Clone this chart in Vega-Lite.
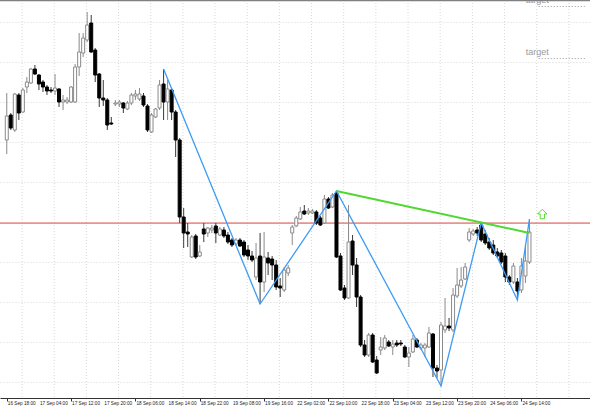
{
  "$schema": "https://vega.github.io/schema/vega-lite/v6.json",
  "width": 590,
  "height": 398,
  "autosize": "none",
  "padding": {"left": 0, "top": 0, "right": 0, "bottom": 12},
  "background": "white",
  "config": {"view": {"stroke": null}},
  "datasets": {
    "candles": [
      {"i":0,"o":260,"h":307,"l":246,"c":284},
      {"i":1,"o":285,"h":287,"l":270,"c":272},
      {"i":2,"o":270,"h":307,"l":268,"c":306},
      {"i":3,"o":305,"h":307,"l":280,"c":287},
      {"i":4,"o":288,"h":312,"l":287,"c":310},
      {"i":5,"o":313,"h":323,"l":307,"c":318},
      {"i":6,"o":317,"h":332,"l":316,"c":331},
      {"i":7,"o":331,"h":335,"l":325,"c":326},
      {"i":8,"o":325,"h":326,"l":310,"c":316},
      {"i":9,"o":318,"h":320,"l":308,"c":313},
      {"i":10,"o":313,"h":315,"l":305,"c":309},
      {"i":11,"o":310,"h":313,"l":307,"c":309},
      {"i":12,"o":309,"h":326,"l":305,"c":312},
      {"i":13,"o":311,"h":312,"l":293,"c":298},
      {"i":14,"o":298,"h":305,"l":290,"c":300},
      {"i":15,"o":298,"h":303,"l":296,"c":300},
      {"i":16,"o":298,"h":314,"l":297,"c":313},
      {"i":17,"o":298,"h":336,"l":297,"c":333},
      {"i":18,"o":333,"h":367,"l":324,"c":348},
      {"i":19,"o":347,"h":367,"l":343,"c":362},
      {"i":20,"o":360,"h":388,"l":358,"c":375},
      {"i":21,"o":377,"h":385,"l":347,"c":348},
      {"i":22,"o":350,"h":352,"l":318,"c":325},
      {"i":23,"o":326,"h":327,"l":293,"c":302},
      {"i":24,"o":302,"h":320,"l":294,"c":300},
      {"i":25,"o":300,"h":302,"l":270,"c":275},
      {"i":26,"o":277,"h":283,"l":275,"c":276},
      {"i":27,"o":296,"h":300,"l":294,"c":297},
      {"i":28,"o":296,"h":300,"l":293,"c":298},
      {"i":29,"o":297,"h":298,"l":287,"c":292},
      {"i":30,"o":291,"h":299,"l":290,"c":297},
      {"i":31,"o":297,"h":307,"l":295,"c":305},
      {"i":32,"o":304,"h":310,"l":300,"c":306},
      {"i":33,"o":301,"h":312,"l":299,"c":306},
      {"i":34,"o":304,"h":307,"l":293,"c":295},
      {"i":35,"o":294,"h":296,"l":268,"c":270},
      {"i":36,"o":268,"h":287,"l":267,"c":285},
      {"i":37,"o":283,"h":292,"l":282,"c":291},
      {"i":38,"o":292,"h":320,"l":290,"c":315},
      {"i":39,"o":316,"h":331,"l":280,"c":298},
      {"i":40,"o":298,"h":320,"l":280,"c":311},
      {"i":41,"o":310,"h":312,"l":280,"c":288},
      {"i":42,"o":288,"h":290,"l":243,"c":260},
      {"i":43,"o":260,"h":262,"l":177,"c":183},
      {"i":44,"o":183,"h":192,"l":152,"c":167},
      {"i":45,"o":168,"h":177,"l":153,"c":166},
      {"i":46,"o":143,"h":165,"l":142,"c":163},
      {"i":47,"o":164,"h":166,"l":141,"c":143},
      {"i":48,"o":144,"h":155,"l":143,"c":148},
      {"i":49,"o":171,"h":177,"l":158,"c":166},
      {"i":50,"o":167,"h":173,"l":163,"c":172},
      {"i":51,"o":170,"h":175,"l":167,"c":172},
      {"i":52,"o":174,"h":177,"l":157,"c":167},
      {"i":53,"o":165,"h":173,"l":164,"c":171},
      {"i":54,"o":170,"h":173,"l":162,"c":164},
      {"i":55,"o":165,"h":168,"l":156,"c":158},
      {"i":56,"o":160,"h":162,"l":153,"c":155},
      {"i":57,"o":156,"h":162,"l":154,"c":160},
      {"i":58,"o":160,"h":162,"l":153,"c":154},
      {"i":59,"o":158,"h":160,"l":143,"c":145},
      {"i":60,"o":150,"h":155,"l":140,"c":144},
      {"i":61,"o":144,"h":149,"l":138,"c":140},
      {"i":62,"o":123,"h":157,"l":120,"c":142},
      {"i":63,"o":144,"h":167,"l":96,"c":118},
      {"i":64,"o":118,"h":168,"l":108,"c":143},
      {"i":65,"o":142,"h":148,"l":125,"c":137},
      {"i":66,"o":141,"h":144,"l":120,"c":135},
      {"i":67,"o":135,"h":140,"l":110,"c":113},
      {"i":68,"o":114,"h":122,"l":103,"c":112},
      {"i":69,"o":110,"h":133,"l":108,"c":130},
      {"i":70,"o":127,"h":135,"l":124,"c":132},
      {"i":71,"o":167,"h":175,"l":155,"c":173},
      {"i":72,"o":174,"h":184,"l":173,"c":182},
      {"i":73,"o":181,"h":193,"l":180,"c":188},
      {"i":74,"o":189,"h":195,"l":185,"c":186},
      {"i":75,"o":187,"h":192,"l":185,"c":189},
      {"i":76,"o":187,"h":191,"l":186,"c":189},
      {"i":77,"o":188,"h":190,"l":175,"c":177},
      {"i":78,"o":182,"h":184,"l":174,"c":175},
      {"i":79,"o":177,"h":205,"l":176,"c":201},
      {"i":80,"o":201,"h":203,"l":191,"c":192},
      {"i":81,"o":193,"h":207,"l":192,"c":205},
      {"i":82,"o":207,"h":209,"l":142,"c":143},
      {"i":83,"o":144,"h":147,"l":109,"c":110},
      {"i":84,"o":112,"h":115,"l":100,"c":102},
      {"i":85,"o":102,"h":195,"l":101,"c":158},
      {"i":86,"o":159,"h":165,"l":125,"c":135},
      {"i":87,"o":135,"h":142,"l":93,"c":103},
      {"i":88,"o":103,"h":105,"l":53,"c":55},
      {"i":89,"o":55,"h":60,"l":43,"c":45},
      {"i":90,"o":45,"h":67,"l":43,"c":65},
      {"i":91,"o":65,"h":67,"l":37,"c":38},
      {"i":92,"o":40,"h":44,"l":26,"c":27},
      {"i":93,"o":50,"h":63,"l":45,"c":53},
      {"i":94,"o":52,"h":65,"l":50,"c":62},
      {"i":95,"o":58,"h":60,"l":53,"c":54},
      {"i":96,"o":53,"h":60,"l":45,"c":56},
      {"i":97,"o":57,"h":60,"l":53,"c":55},
      {"i":98,"o":57,"h":60,"l":54,"c":56},
      {"i":99,"o":53,"h":55,"l":42,"c":43},
      {"i":100,"o":43,"h":53,"l":33,"c":47},
      {"i":101,"o":48,"h":65,"l":47,"c":61},
      {"i":102,"o":60,"h":62,"l":52,"c":53},
      {"i":103,"o":52,"h":57,"l":50,"c":55},
      {"i":104,"o":52,"h":57,"l":43,"c":55},
      {"i":105,"o":53,"h":73,"l":52,"c":67},
      {"i":106,"o":66,"h":67,"l":23,"c":32},
      {"i":107,"o":32,"h":35,"l":22,"c":29},
      {"i":108,"o":30,"h":78,"l":14,"c":75},
      {"i":109,"o":70,"h":102,"l":67,"c":74},
      {"i":110,"o":74,"h":82,"l":69,"c":72},
      {"i":111,"o":70,"h":112,"l":68,"c":105},
      {"i":112,"o":104,"h":132,"l":102,"c":115},
      {"i":113,"o":114,"h":133,"l":112,"c":120},
      {"i":114,"o":121,"h":137,"l":120,"c":133},
      {"i":115,"o":160,"h":172,"l":158,"c":168},
      {"i":116,"o":166,"h":171,"l":164,"c":169},
      {"i":117,"o":170,"h":173,"l":164,"c":167},
      {"i":118,"o":175,"h":177,"l":158,"c":160},
      {"i":119,"o":166,"h":170,"l":155,"c":157},
      {"i":120,"o":158,"h":162,"l":150,"c":152},
      {"i":121,"o":155,"h":160,"l":145,"c":147},
      {"i":122,"o":148,"h":152,"l":142,"c":144},
      {"i":123,"o":147,"h":150,"l":136,"c":138},
      {"i":124,"o":144,"h":147,"l":118,"c":123},
      {"i":125,"o":123,"h":125,"l":115,"c":118},
      {"i":126,"o":118,"h":137,"l":116,"c":134},
      {"i":127,"o":118,"h":122,"l":100,"c":109},
      {"i":128,"o":110,"h":142,"l":107,"c":134},
      {"i":129,"o":124,"h":155,"l":117,"c":139},
      {"i":130,"o":138,"h":181,"l":136,"c":168}
    ],
    "zigzag": [
      {"i":39,"p":331},{"i":63,"p":96},{"i":82,"p":209},{"i":108,"p":14},
      {"i":118,"p":177},{"i":127,"p":100},{"i":130,"p":181}
    ],
    "trend": [{"i":82,"p":209},{"i":130,"p":167}],
    "level": [{"p":176.8}],
    "frame": [{"p":399.5}],
    "targets": [
      {"label":"target","p":393.5,"ti":129.1,"i1":132.3,"i2":143.8},
      {"label":"target","p":341.5,"ti":129.1,"i1":132.3,"i2":143.8}
    ],
    "signal": [{"i":133.2,"p":186}],
    "times": [
      {"i":0,"t":"16 Sep 18:00"},{"i":8,"t":"17 Sep 04:00"},{"i":16,"t":"17 Sep 12:00"},
      {"i":24,"t":"17 Sep 20:00"},{"i":32,"t":"18 Sep 06:00"},{"i":40,"t":"18 Sep 14:00"},
      {"i":48,"t":"18 Sep 22:00"},{"i":56,"t":"19 Sep 08:00"},{"i":64,"t":"19 Sep 16:00"},
      {"i":72,"t":"22 Sep 02:00"},{"i":80,"t":"22 Sep 10:00"},{"i":88,"t":"22 Sep 18:00"},
      {"i":96,"t":"23 Sep 04:00"},{"i":104,"t":"23 Sep 12:00"},{"i":112,"t":"23 Sep 20:00"},
      {"i":120,"t":"24 Sep 06:00"},{"i":128,"t":"24 Sep 14:00"}
    ],
    "vgrid": [
      {"i":3.8},{"i":11.8},{"i":19.8},{"i":27.8},{"i":35.8},{"i":43.8},
      {"i":51.8},{"i":59.8},{"i":67.8},{"i":75.8},{"i":83.8},{"i":91.8},
      {"i":99.8},{"i":107.8},{"i":115.8},{"i":123.8},{"i":131.8},{"i":139.8}
    ]
  },
  "layer": [
    {
      "data": {"name": "vgrid"},
      "mark": {"type": "rule", "color": "#d9d9d9", "strokeDash": [1, 2], "strokeWidth": 1},
      "encoding": {
        "x": {"field": "i", "type": "quantitative", "scale": {"domain": [-0.44, 143.81], "nice": false, "zero": false},
          "axis": {
            "values": [0,8,16,24,32,40,48,56,64,72,80,88,96,104,112,120,128],
            "labels": false,
            "tickSize": 3, "tickColor": "#333", "domainColor": "#333", "domainWidth": 1,
            "grid": false, "title": null
          }
        }
      }
    },
    {
      "data": {"name": "level"},
      "mark": {"type": "rule", "color": "#e8504f", "strokeWidth": 1.2, "opacity": 0.85},
      "encoding": {
        "y": {"field": "p", "type": "quantitative", "scale": {"domain": [2, 400], "nice": false, "zero": false},
          "axis": {"values": [18.5,38.5,58.5,78.5,98.5,118.5,138.5,158.5,178.5,198.5,218.5,238.5,258.5,278.5,298.5,318.5,338.5,358.5,378.5],
            "grid": true, "gridColor": "#d9d9d9", "gridDash": [1, 2], "labels": false, "ticks": false, "domain": false, "title": null}
        }
      }
    },
    {
      "data": {"name": "candles"},
      "mark": {"type": "rule", "strokeWidth": 1},
      "encoding": {
        "x": {"field": "i", "type": "quantitative"},
        "y": {"field": "l", "type": "quantitative"},
        "y2": {"field": "h"},
        "color": {"condition": {"test": "datum.c > datum.o", "value": "#8a8a8a"}, "value": "#3a3a3a"}
      }
    },
    {
      "data": {"name": "candles"},
      "mark": {"type": "bar", "width": 3, "strokeWidth": 1},
      "encoding": {
        "x": {"field": "i", "type": "quantitative"},
        "y": {"field": "o", "type": "quantitative"},
        "y2": {"field": "c"},
        "fill": {"condition": {"test": "datum.c > datum.o", "value": "#ffffff"}, "value": "#000000"},
        "stroke": {"condition": {"test": "datum.c > datum.o", "value": "#8a8a8a"}, "value": "#000000"}
      }
    },
    {
      "data": {"name": "zigzag"},
      "mark": {"type": "line", "color": "#3d9bf5", "strokeWidth": 1.3},
      "encoding": {
        "x": {"field": "i", "type": "quantitative"},
        "y": {"field": "p", "type": "quantitative"}
      }
    },
    {
      "data": {"name": "trend"},
      "mark": {"type": "line", "color": "#4fd930", "strokeWidth": 2},
      "encoding": {
        "x": {"field": "i", "type": "quantitative"},
        "y": {"field": "p", "type": "quantitative"}
      }
    },
    {
      "data": {"name": "signal"},
      "mark": {"type": "point", "shape": "M0,-1 L-1,0 L-0.45,0 L-0.45,1 L0.45,1 L0.45,0 L1,0 Z", "size": 90, "filled": false, "color": "#55dd33", "strokeWidth": 1, "opacity": 1},
      "encoding": {
        "x": {"field": "i", "type": "quantitative"},
        "y": {"field": "p", "type": "quantitative"}
      }
    },
    {
      "data": {"name": "targets"},
      "mark": {"type": "rule", "color": "#9a9a9a", "strokeDash": [1, 2], "strokeWidth": 1},
      "encoding": {
        "x": {"field": "i1", "type": "quantitative"},
        "x2": {"field": "i2"},
        "y": {"field": "p", "type": "quantitative"}
      }
    },
    {
      "data": {"name": "targets"},
      "mark": {"type": "text", "align": "left", "baseline": "alphabetic", "dy": -4, "font": "Liberation Sans", "fontSize": 9, "color": "#9a9a9a"},
      "encoding": {
        "x": {"field": "ti", "type": "quantitative"},
        "y": {"field": "p", "type": "quantitative"},
        "text": {"field": "label"}
      }
    },
    {
      "data": {"name": "times"},
      "mark": {"type": "text", "align": "left", "baseline": "top", "dx": 1, "dy": 3, "font": "Liberation Sans", "fontSize": 4.7, "color": "#222"},
      "encoding": {
        "x": {"field": "i", "type": "quantitative"},
        "y": {"datum": 2, "type": "quantitative"},
        "text": {"field": "t"}
      }
    },
    {
      "data": {"name": "frame"},
      "mark": {"type": "rule", "color": "#808080", "strokeWidth": 1.5},
      "encoding": {
        "y": {"field": "p", "type": "quantitative"}
      }
    }
  ]
}
